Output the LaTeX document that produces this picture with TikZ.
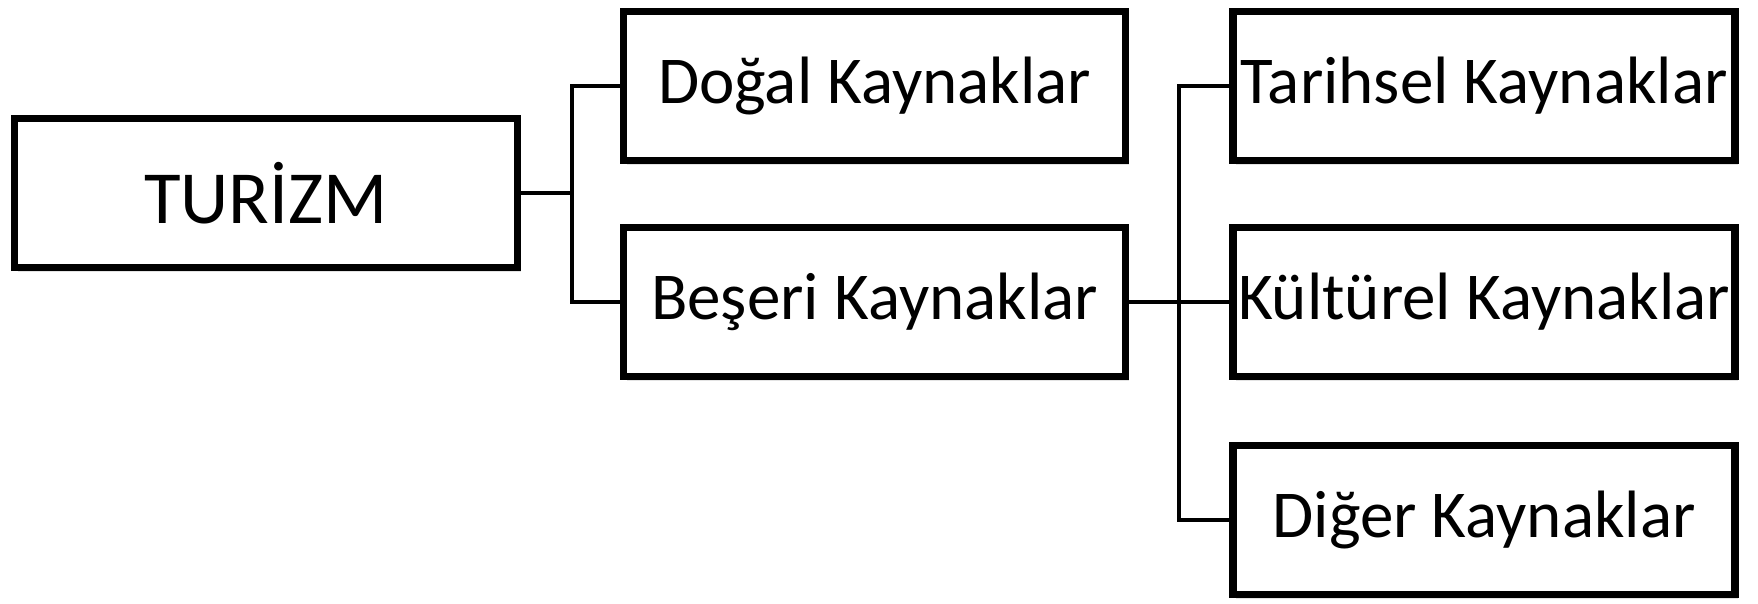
\documentclass[tikz,border=0pt]{standalone}
\usepackage{fontspec}
\setmainfont{Carlito}
\usetikzlibrary{shadows}
\begin{document}
\begin{tikzpicture}[x=1pt,y=-1pt,
  box/.style={draw, line width=7.5pt, minimum width=502pt, minimum height=149pt,
    inner sep=0pt, fill=white, font=\fontsize{67}{72}\selectfont,
    drop shadow={shadow xshift=3pt, shadow yshift=-4pt, fill=black!22}},
  link/.style={line width=4.5pt, line join=miter}]
\useasboundingbox (0,0) rectangle (1758,603);
\node[box, minimum width=503pt, font=\fontsize{75}{80}\selectfont] (tur) at (266,193) {TURİZM};
\node[box] (dog) at (874.5,86) {Doğal Kaynaklar};
\node[box] (bes) at (874.5,302) {Beşeri Kaynaklar};
\node[box] (tar) at (1484,86) {Tarihsel Kaynaklar};
\node[box] (kul) at (1484,302) {Kültürel Kaynaklar};
\node[box] (dig) at (1484,520) {Diğer Kaynaklar};
\coordinate (j1) at (572,0);
\coordinate (j2) at (1179,0);
\draw[link] (tur.east) -- (tur.east -| j1);
\draw[link] (dog.west) -- (dog.west -| j1) -- (bes.west -| j1) -- (bes.west);
\draw[link] (tar.west) -- (tar.west -| j2) -- (dig.west -| j2) -- (dig.west);
\draw[link] (bes.east) -- (kul.west);
\end{tikzpicture}
\end{document}
